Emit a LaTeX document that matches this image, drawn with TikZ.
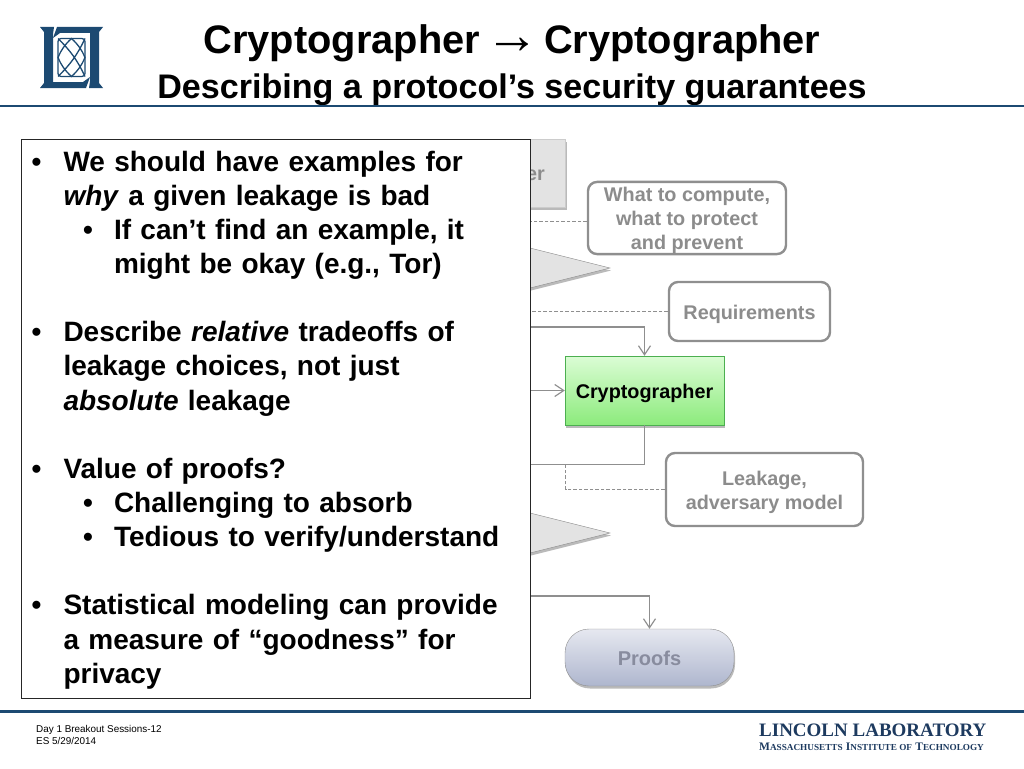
\documentclass[tikz,border=0pt]{standalone}
\usepackage{fontspec}
\setmainfont{Liberation Sans}
\newfontfamily\labfont{Liberation Serif}
\usetikzlibrary{shadows}
\usetikzlibrary{arrows.meta}
\definecolor{ll_blue}{HTML}{1C4A72}
\definecolor{ll_navy}{HTML}{1D3A5F}
\definecolor{box_gray}{HTML}{8F8F8F}
\definecolor{text_gray}{HTML}{8C8C8C}
\definecolor{green_top}{HTML}{DBFCD5}
\definecolor{green_low}{HTML}{8CEB7C}
\definecolor{green_line}{HTML}{4CAF50}
\definecolor{proofs_top}{HTML}{E6E8F0}
\definecolor{proofs_low}{HTML}{AEB6CE}
\definecolor{proofs_text}{HTML}{888C9E}
\newcommand{\capword}[2]{\fontsize{11.5}{12}\selectfont #1\fontsize{9.2}{12}\selectfont #2}
\newcommand{\titlearrow}{\hspace{-6pt}{\fontsize{54}{40}\selectfont →}\hspace{-6pt}}
\newcommand{\toprow}{\mbox{}\\[-4pt]}
\tikzset{
	soft_shadow/.style = {
		drop shadow={shadow xshift=1pt, shadow yshift=-2.5pt, opacity=0.45, fill=black!60}
	},
	lift/.style = {
		execute at begin node={\rule{0pt}{#1}}
	},
	node_text/.style = {
		align=center,
		inner sep=0pt,
		font=\bfseries\fontsize{19.8}{24}\selectfont,
		text=text_gray
	},
	node_req/.style = {
		node_text,
		rectangle,
		rounded corners=9pt,
		draw=box_gray,
		line width=2.4pt,
		fill=white
	},
	node_gray/.style = {
		rectangle,
		inner sep=0pt,
		draw=black!20,
		fill=black!11,
		soft_shadow
	},
	node_crypto/.style = {
		node_text,
		rectangle,
		text=black,
		draw=green_line,
		top color=green_top,
		bottom color=green_low,
		soft_shadow
	},
	node_proofs/.style = {
		node_text,
		rectangle,
		rounded corners=24pt,
		text=proofs_text,
		font=\bfseries\fontsize{20}{24}\selectfont,
		draw=box_gray,
		top color=proofs_top,
		bottom color=proofs_low,
		soft_shadow
	},
	node_panel/.style = {
		rectangle,
		draw=black!85,
		line width=1.3pt,
		fill=white,
		inner sep=0pt
	},
	node_notes/.style = {
		inner sep=0pt,
		align=left,
		font=\bfseries\fontsize{28}{34.13}\selectfont
	},
	tri_gray/.style = {
		draw=box_gray,
		fill=black!11,
		soft_shadow
	},
	link_solid/.style = {
		draw=box_gray,
		line width=1.2pt
	},
	link_dash/.style = {
		draw=box_gray,
		line width=1.1pt,
		dashed,
		dash pattern=on 3.5pt off 2pt
	},
}
\newenvironment{outerlist}{\begin{list}{\textbullet}{\leftmargin=40.5pt \labelwidth=20pt \labelsep=22pt \itemindent=0pt \itemsep=34.13pt \parsep=0pt \topsep=0pt \partopsep=0pt}}{\end{list}}
\newenvironment{innerlist}{\begin{list}{\textbullet}{\leftmargin=50.5pt \labelwidth=20pt \labelsep=21pt \itemindent=0pt \itemsep=0pt \parsep=0pt \topsep=0pt \partopsep=0pt}}{\end{list}}

\begin{document}
\begin{tikzpicture}[x=1pt,y=-1pt,>={Straight Barb[length=9pt,width=12pt]}]
\useasboundingbox (0,0) rectangle (1024,768);
% header and footer
\node [font=\bfseries\fontsize{39.8}{40}\selectfont, inner sep=0pt] (title) at (512,43) {Cryptographer \titlearrow{} Cryptographer};
\node [font=\bfseries\fontsize{34.1}{36}\selectfont, inner sep=0pt] (subtitle) at (512,90) {Describing a protocol’s security guarantees};
\draw [ll_blue, line width=2.6pt] (0,106) -- (1024,106);
\draw [ll_blue, line width=2.6pt] (0,711.5) -- (1024,711.5);
\node [anchor=north west, inner sep=0pt, align=left, font=\fontsize{9.9}{11.5}\selectfont] (footer) at (36,725.5) {Day 1 Breakout Sessions-12\\ES 5/29/2014};
\node [anchor=west, inner sep=0pt, text=ll_navy, font=\labfont\bfseries\fontsize{19}{20}\selectfont] (lab) at (759,730) {LINCOLN LABORATORY};
\node [anchor=west, inner sep=0pt, text=ll_navy, font=\labfont\bfseries] (mit) at (759,747) {\capword{M}{ASSACHUSETTS}\hspace{1pt} \capword{I}{NSTITUTE OF}\hspace{1pt} \capword{T}{ECHNOLOGY}};
% logo
\foreach \ang in {0,180} {
	\fill [ll_blue, rotate around={\ang:(71.5,57.5)}] (40,27) -- (54,27) -- (53,34) -- (53,82) -- (83,82) -- (90,77) -- (86,88) -- (40,88) -- (44,83) -- (44,32) -- cycle;
}
\draw [ll_blue, line width=1.3pt, rounded corners=3pt] (58,38.5) rectangle (85,76.5);
\draw [ll_blue, line width=1.3pt] (58,38.5) to[bend left=10] (85,76.5) (58,76.5) to[bend right=10] (85,38.5);
\draw [ll_blue, line width=1.3pt] (58,57.5) to[bend left=12] (71.5,38.5) to[bend left=12] (85,57.5) to[bend left=12] (71.5,76.5) to[bend left=12] cycle;
% flow
\node [node_gray, minimum width=125pt, minimum height=68pt] (dev_box) at (503,173) {};
\node [node_text, lift=20.5pt, anchor=east] (dev_text) at (545,170) {er};
\path [tri_gray] (510,243) -- (610,268) -- (510,293) -- cycle;
\path [tri_gray] (510,508) -- (610,533) -- (510,558) -- cycle;
\node [node_req, minimum width=198pt, minimum height=72pt] (compute) at (687,218) {\toprow What to compute,\\what to protect\\and prevent};
\node [node_req, lift=20.5pt, minimum width=161pt, minimum height=59pt] (requirements) at (749.5,311.5) {Requirements};
\node [node_crypto, lift=20.5pt, minimum width=159pt, minimum height=69pt] (crypto) at (644.5,390.5) {Cryptographer};
\node [node_req, minimum width=197pt, minimum height=73pt] (leakage) at (764.5,489.5) {\toprow Leakage,\\adversary model};
\node [node_proofs, lift=17pt, minimum width=169pt, minimum height=57pt] (proofs) at (649.5,657.5) {Proofs};
\coordinate (from_compute) at (510,221.5);
\coordinate (from_req) at (510,311.5);
\coordinate (to_crypto_top) at (510,327);
\coordinate (to_crypto_left) at (510,390.5);
\coordinate (from_crypto) at (510,464.5);
\coordinate (to_proofs) at (510,596);
\draw [link_dash] (compute.west |- from_compute) -- (from_compute);
\draw [link_dash] (requirements.west) -- (from_req);
\draw [link_solid, ->] (to_crypto_top) -| (crypto.north);
\draw [link_solid, ->] (to_crypto_left) -- (crypto.west);
\draw [link_solid] (crypto.south) |- (from_crypto);
\draw [link_dash] (leakage.west) -| (565.5,464.5);
\draw [link_solid, ->] (to_proofs) -| (proofs.north);
% notes on top
\node [node_panel, anchor=north west, minimum width=509pt, minimum height=559pt] (panel) at (21,139) {};
\node [node_notes, text width=505pt] (notes) at (275.5,413) {%
\begin{outerlist}
\item We should have examples for\\\textit{why} a given leakage is bad
\begin{innerlist}
\item If can’t find an example, it\\might be okay (e.g., Tor)
\end{innerlist}
\item Describe \textit{relative} tradeoffs of\\leakage choices, not just\\\textit{absolute} leakage
\item Value of proofs?
\begin{innerlist}
\item Challenging to absorb
\item Tedious to verify/understand
\end{innerlist}
\item Statistical modeling can provide\\a measure of “goodness” for\\privacy
\end{outerlist}};
\end{tikzpicture}
\end{document}
